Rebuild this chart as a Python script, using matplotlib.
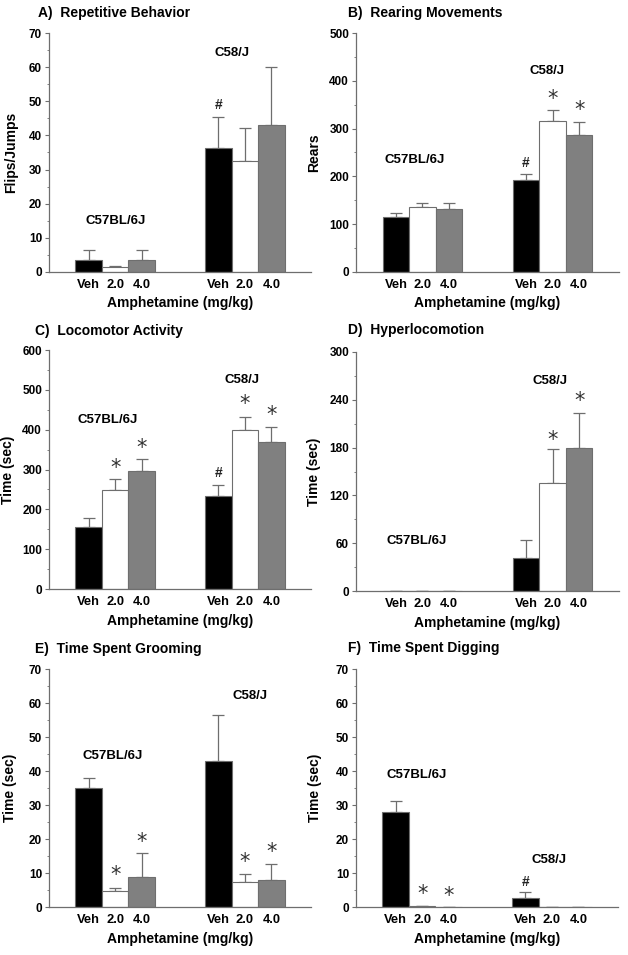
import matplotlib
matplotlib.use("Agg")
import matplotlib.pyplot as plt
from matplotlib.ticker import MultipleLocator

plt.rcParams['font.family'] = ['Liberation Sans', 'DejaVu Sans']
plt.rcParams['font.weight'] = 'bold'

doses = ["Veh", "2.0", "4.0"]
strains = ["C57BL/6J", "C58/J"]

# Panel A: Repetitive Behavior
a_c57 = [3.6, 1.5, 3.5]
a_c57_err = [2.9, 0.4, 3.0]
a_c58 = [36.4, 32.4, 43.2]
a_c58_err = [8.9, 9.9, 16.7]

# Panel B: Rearing Movements
b_c57 = [116, 135, 132]
b_c57_err = [7, 10, 12]
b_c58 = [193, 315, 286]
b_c58_err = [11, 24, 27]

# Panel C: Locomotor Activity
c_c57 = [156, 248, 297]
c_c57_err = [21, 29, 30]
c_c58 = [234, 398, 368]
c_c58_err = [27, 34, 39]

# Panel D: Hyperlocomotion
d_c57 = [0.0, 0.0, 0.0]
d_c57_err = [0.0, 0.0, 0.0]
d_c58 = [41.5, 135.5, 179]
d_c58_err = [23, 42.5, 45]

# Panel E: Time Spent Grooming
e_c57 = [35.0, 4.6, 8.8]
e_c57_err = [2.9, 1.0, 7.1]
e_c58 = [42.8, 7.4, 7.9]
e_c58_err = [13.6, 2.4, 4.8]

# Panel F: Time Spent Digging
f_c57 = [27.8, 0.2, 0.1]
f_c57_err = [3.4, 0.0, 0.0]
f_c58 = [2.7, 0.0, 0.0]
f_c58_err = [1.6, 0.0, 0.0]

panels = [
    dict(title="A)  Repetitive Behavior", ylabel="Flips/Jumps", ymax=70, major=10, minor=5,
         c57=a_c57, c57e=a_c57_err, c58=a_c58, c58e=a_c58_err,
         lab57=(2.5, 14.8), lab58=(6.9, 64),
         marks=[(6.4, 49, "#")]),
    dict(title="B)  Rearing Movements", ylabel="Rears", ymax=500, major=100, minor=50,
         c57=b_c57, c57e=b_c57_err, c58=b_c58, c58e=b_c58_err,
         lab57=(2.2, 235), lab58=(7.2, 420),
         marks=[(6.4, 228, "#"), (7.4, 362, "*"), (8.4, 338, "*")]),
    dict(title="C)  Locomotor Activity", ylabel="Time (sec)", ymax=600, major=100, minor=50,
         c57=c_c57, c57e=c_c57_err, c58=c_c58, c58e=c_c58_err,
         lab57=(2.2, 424), lab58=(7.3, 525),
         marks=[(2.5, 305, "*"), (3.5, 355, "*"), (6.4, 290, "#"), (7.4, 465, "*"), (8.4, 438, "*")]),
    dict(title="D)  Hyperlocomotion", ylabel="Time (sec)", ymax=300, major=60, minor=30,
         c57=d_c57, c57e=d_c57_err, c58=d_c58, c58e=d_c58_err,
         lab57=(2.3, 63), lab58=(7.3, 264),
         marks=[(7.4, 190, "*"), (8.4, 238, "*")]),
    dict(title="E)  Time Spent Grooming", ylabel="Time (sec)", ymax=70, major=10, minor=5,
         c57=e_c57, c57e=e_c57_err, c58=e_c58, c58e=e_c58_err,
         lab57=(2.4, 44.3), lab58=(7.6, 62),
         marks=[(2.5, 9.3, "*"), (3.5, 19.0, "*"), (7.4, 13.2, "*"), (8.4, 16.2, "*")]),
    dict(title="F)  Time Spent Digging", ylabel="Time (sec)", ymax=70, major=10, minor=5,
         c57=f_c57, c57e=f_c57_err, c58=f_c58, c58e=f_c58_err,
         lab57=(2.3, 38.7), lab58=(7.3, 13.8),
         marks=[(2.5, 3.8, "*"), (3.5, 3.3, "*"), (6.4, 7.5, "#")]),
]

W, H = 628, 955
fig = plt.figure(figsize=(W / 100, H / 100), dpi=100)

# axes boxes in pixels: left, top, right, bottom
boxes = [
    (49, 33, 311, 272), (356, 33, 619, 272),
    (49, 350, 311, 589), (356, 352, 619, 591),
    (49, 669, 311, 907), (356, 669, 618, 907),
]
title_pos = [(38, 13), (348, 13), (35, 331), (348, 330), (35, 649), (348, 648)]
ylab_x = [18, 321, 15, 321, 17, 322]

colors = ["black", "white", "#808080"]
edge = "#6e6e6e"
x57 = [1.5, 2.5, 3.5]
x58 = [6.4, 7.4, 8.4]

for p, (l, t, r, b), (tx, ty), yx in zip(panels, boxes, title_pos, ylab_x):
    ax = fig.add_axes([l / W, (H - b) / H, (r - l) / W, (b - t) / H])
    for xs, vals, errs in ((x57, p["c57"], p["c57e"]), (x58, p["c58"], p["c58e"])):
        ax.bar(xs, vals, width=1.0, color=colors, edgecolor=edge, linewidth=0.8, zorder=2)
        ax.errorbar(xs, vals, yerr=[[0] * 3, errs], fmt="none", ecolor=edge,
                    elinewidth=0.9, capsize=4.5, capthick=0.9, zorder=1)
    ax.set_xlim(0, 9.9)
    ax.set_ylim(0, p["ymax"])
    ax.yaxis.set_major_locator(MultipleLocator(p["major"]))
    ax.yaxis.set_minor_locator(MultipleLocator(p["minor"]))
    ax.set_xticks(x57 + x58)
    ax.set_xticklabels(doses + doses, fontsize=9.3, fontweight="bold")
    ax.tick_params(axis="x", length=0, pad=5)
    ax.tick_params(axis="y", which="major", length=3, width=0.8, color=edge, labelsize=8.5, pad=2)
    ax.tick_params(axis="y", which="minor", length=1.5, width=0.6, color=edge)
    for lbl in ax.get_yticklabels():
        lbl.set_fontweight("bold")
    for s in ("top", "right"):
        ax.spines[s].set_visible(False)
    for s in ("left", "bottom"):
        ax.spines[s].set_color(edge)
        ax.spines[s].set_linewidth(0.9)
    ax.set_xlabel("Amphetamine (mg/kg)", fontsize=10, fontweight="bold", labelpad=4)
    ax.set_ylabel(p["ylabel"], fontsize=10, fontweight="bold")
    ax.yaxis.set_label_coords((yx - l) / (r - l), 0.5)
    ax.text(p["lab57"][0], p["lab57"][1], strains[0], ha="center", va="center",
            fontsize=9.5, fontweight="bold")
    ax.text(p["lab58"][0], p["lab58"][1], strains[1], ha="center", va="center",
            fontsize=9.5, fontweight="bold")
    for mx, my, m in p["marks"]:
        if m == "*":
            ax.text(mx, my, m, ha="center", va="center", fontsize=15,
                    fontweight="normal", color="#333333",
                    family=["DejaVu Sans"])
        else:
            ax.text(mx, my, m, ha="center", va="center", fontsize=10,
                    fontweight="bold", color="#222222")
    fig.text(tx / W, 1 - ty / H, p["title"], ha="left", va="center",
             fontsize=10, fontweight="bold")

fig.savefig("out.png", dpi=100)
